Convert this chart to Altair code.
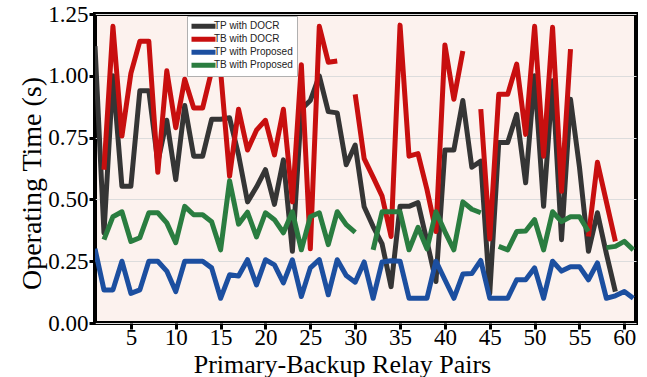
import altair as alt
import pandas as pd

pairs = list(range(1, 62))

tp_docr = [1.12, 0.365, 1.00, 0.553, 0.553, 0.94, 0.94, 0.65, 0.82, 0.58,
           0.88, 0.675, 0.675, 0.824, 0.824, 0.83, 0.68, 0.49, 0.55, 0.62,
           0.48, 0.66, 0.29, 0.865, 0.90, 1.00, 0.855, 0.85, 0.64, 0.72,
           0.47, 0.39, 0.32, 0.147, 0.472, 0.472, 0.487, 0.33, 0.168, 0.70,
           0.70, 0.90, 0.63, 0.655, 0.12, 0.73, 0.73, 0.844, 0.567, 1.00,
           0.472, 0.98, 0.337, 0.905, 0.63, 0.29, 0.446, 0.28, 0.127, None,
           None]

tb_docr = [None, 0.62, 1.20, 0.756, 1.01, 1.14, 1.14, 0.61, 1.02, 0.79,
           0.986, 0.87, 0.87, 1.02, 1.02, 0.594, 0.865, 0.70, 0.78, 0.82,
           0.68, 0.865, 0.49, 1.045, 0.30, 1.20, 1.055, 1.06, None, 0.925,
           0.665, 0.59, 0.513, 0.35, 1.205, 0.675, 0.685, 0.54, 0.37, 1.125,
           0.905, 1.10, None, 0.865, 0.34, 0.925, 0.925, 1.047, 0.763, 1.20,
           0.675, 1.196, 0.533, 1.108, None, 0.35, 0.65, 0.49, 0.33, None,
           None]

tp_prop = [0.30, 0.134, 0.134, 0.25, 0.12, 0.134, 0.25, 0.25, 0.21, 0.127,
           0.25, 0.25, 0.25, 0.223, 0.10, 0.195, 0.19, 0.256, 0.154, 0.256,
           0.235, 0.162, 0.256, 0.107, 0.223, 0.256, 0.114, 0.256, 0.192, 0.165,
           0.247, 0.10, 0.247, 0.252, 0.25, 0.10, 0.10, 0.10, 0.25, 0.175,
           0.10, 0.198, 0.20, 0.253, 0.10, 0.10, 0.10, 0.175, 0.175, 0.223,
           0.10, 0.25, 0.21, 0.228, 0.228, 0.175, 0.243, 0.10, 0.11, 0.127,
           0.10]

tb_prop = [None, 0.337, 0.43, 0.45, 0.33, 0.345, 0.446, 0.446, 0.405, 0.325,
           0.472, 0.438, 0.438, 0.41, 0.296, 0.575, 0.40, 0.448, 0.348, 0.446,
           0.418, 0.365, 0.45, 0.296, 0.43, 0.446, 0.317, 0.45, 0.398, 0.367,
           None, 0.296, 0.45, 0.45, 0.45, 0.296, 0.387, 0.30, 0.45, 0.37,
           0.296, 0.49, 0.46, 0.446, None, 0.31, 0.296, 0.37, 0.372, 0.418,
           0.296, 0.45, 0.41, 0.43, 0.43, 0.37, None, 0.305, 0.31, 0.33,
           0.296]

series_names = ["TP with DOCR", "TB with DOCR", "TP with Proposed", "TB with Proposed"]
series_values = [tp_docr, tb_docr, tp_prop, tb_prop]
series_colors = ["#353535", "#c80f0f", "#1c4fa0", "#2a7d40"]

x_ticks = list(range(5, 61, 5))
y_ticks = [0, 0.25, 0.5, 0.75, 1.0, 1.25]

rows = []
for si, (name, vals) in enumerate(zip(series_names, series_values)):
    seg = 0
    for xv, yv in zip(pairs, vals):
        if yv is None:
            seg += 1
            continue
        rows.append({"x": xv, "y": yv, "series": name, "seg": f"{si}-{seg}", "k": si})
df = pd.DataFrame(rows)

serif = "Liberation Serif"

chart = alt.Chart(df).mark_line(strokeWidth=5, strokeJoin="round", clip=True).encode(
    x=alt.X("x:Q",
            scale=alt.Scale(domain=[1, 61.3], nice=False, zero=False),
            axis=alt.Axis(values=x_ticks, title="Primary-Backup Relay Pairs",
                          grid=False, domain=False, tickColor="black", tickWidth=3,
                          tickSize=6, labelPadding=-3, labelFont=serif, labelFontSize=23,
                          labelColor="black", titleFont=serif, titleFontSize=26,
                          titleFontWeight="normal", titleColor="black",
                          titleBaseline="alphabetic", titleX=247, titleY=49,
                          labelFlush=False)),
    y=alt.Y("y:Q",
            scale=alt.Scale(domain=[0, 1.25], nice=False),
            axis=alt.Axis(values=y_ticks, format=".2f", title="Operating Time (s)",
                          grid=True, gridColor="#dcdcdc", gridWidth=1, domain=False,
                          tickColor="black", tickWidth=3, tickSize=6, labelPadding=1,
                          labelFont=serif, labelFontSize=23, labelColor="black",
                          titleFont=serif, titleFontSize=28, titleFontWeight="normal",
                          titleColor="black", titlePadding=1, titleY=169)),
    color=alt.Color("series:N",
                    scale=alt.Scale(domain=series_names, range=series_colors),
                    legend=alt.Legend(orient="none", legendX=92, legendY=2, title=None,
                                      symbolType="M-4,0H4", symbolSize=36,
                                      symbolStrokeWidth=5, symbolOffset=7,
                                      labelOffset=5, labelFont="Liberation Sans",
                                      labelFontSize=10, labelColor="#222222",
                                      fillColor="white", strokeColor="#b0b0b0",
                                      padding=4, rowPadding=0, clipHeight=12.5,
                                      cornerRadius=0)),
    detail="seg:N",
).properties(
    width=541,
    height=309,
    autosize=alt.AutoSizeParams(type="none"),
    padding={"left": 95, "top": 14, "right": 11, "bottom": 54},
    background="white",
).configure_view(
    fill="#fcf2ee",
    stroke="black",
    strokeWidth=4,
)

chart.save("out.html", embed_options={"renderer": "svg", "actions": False})
